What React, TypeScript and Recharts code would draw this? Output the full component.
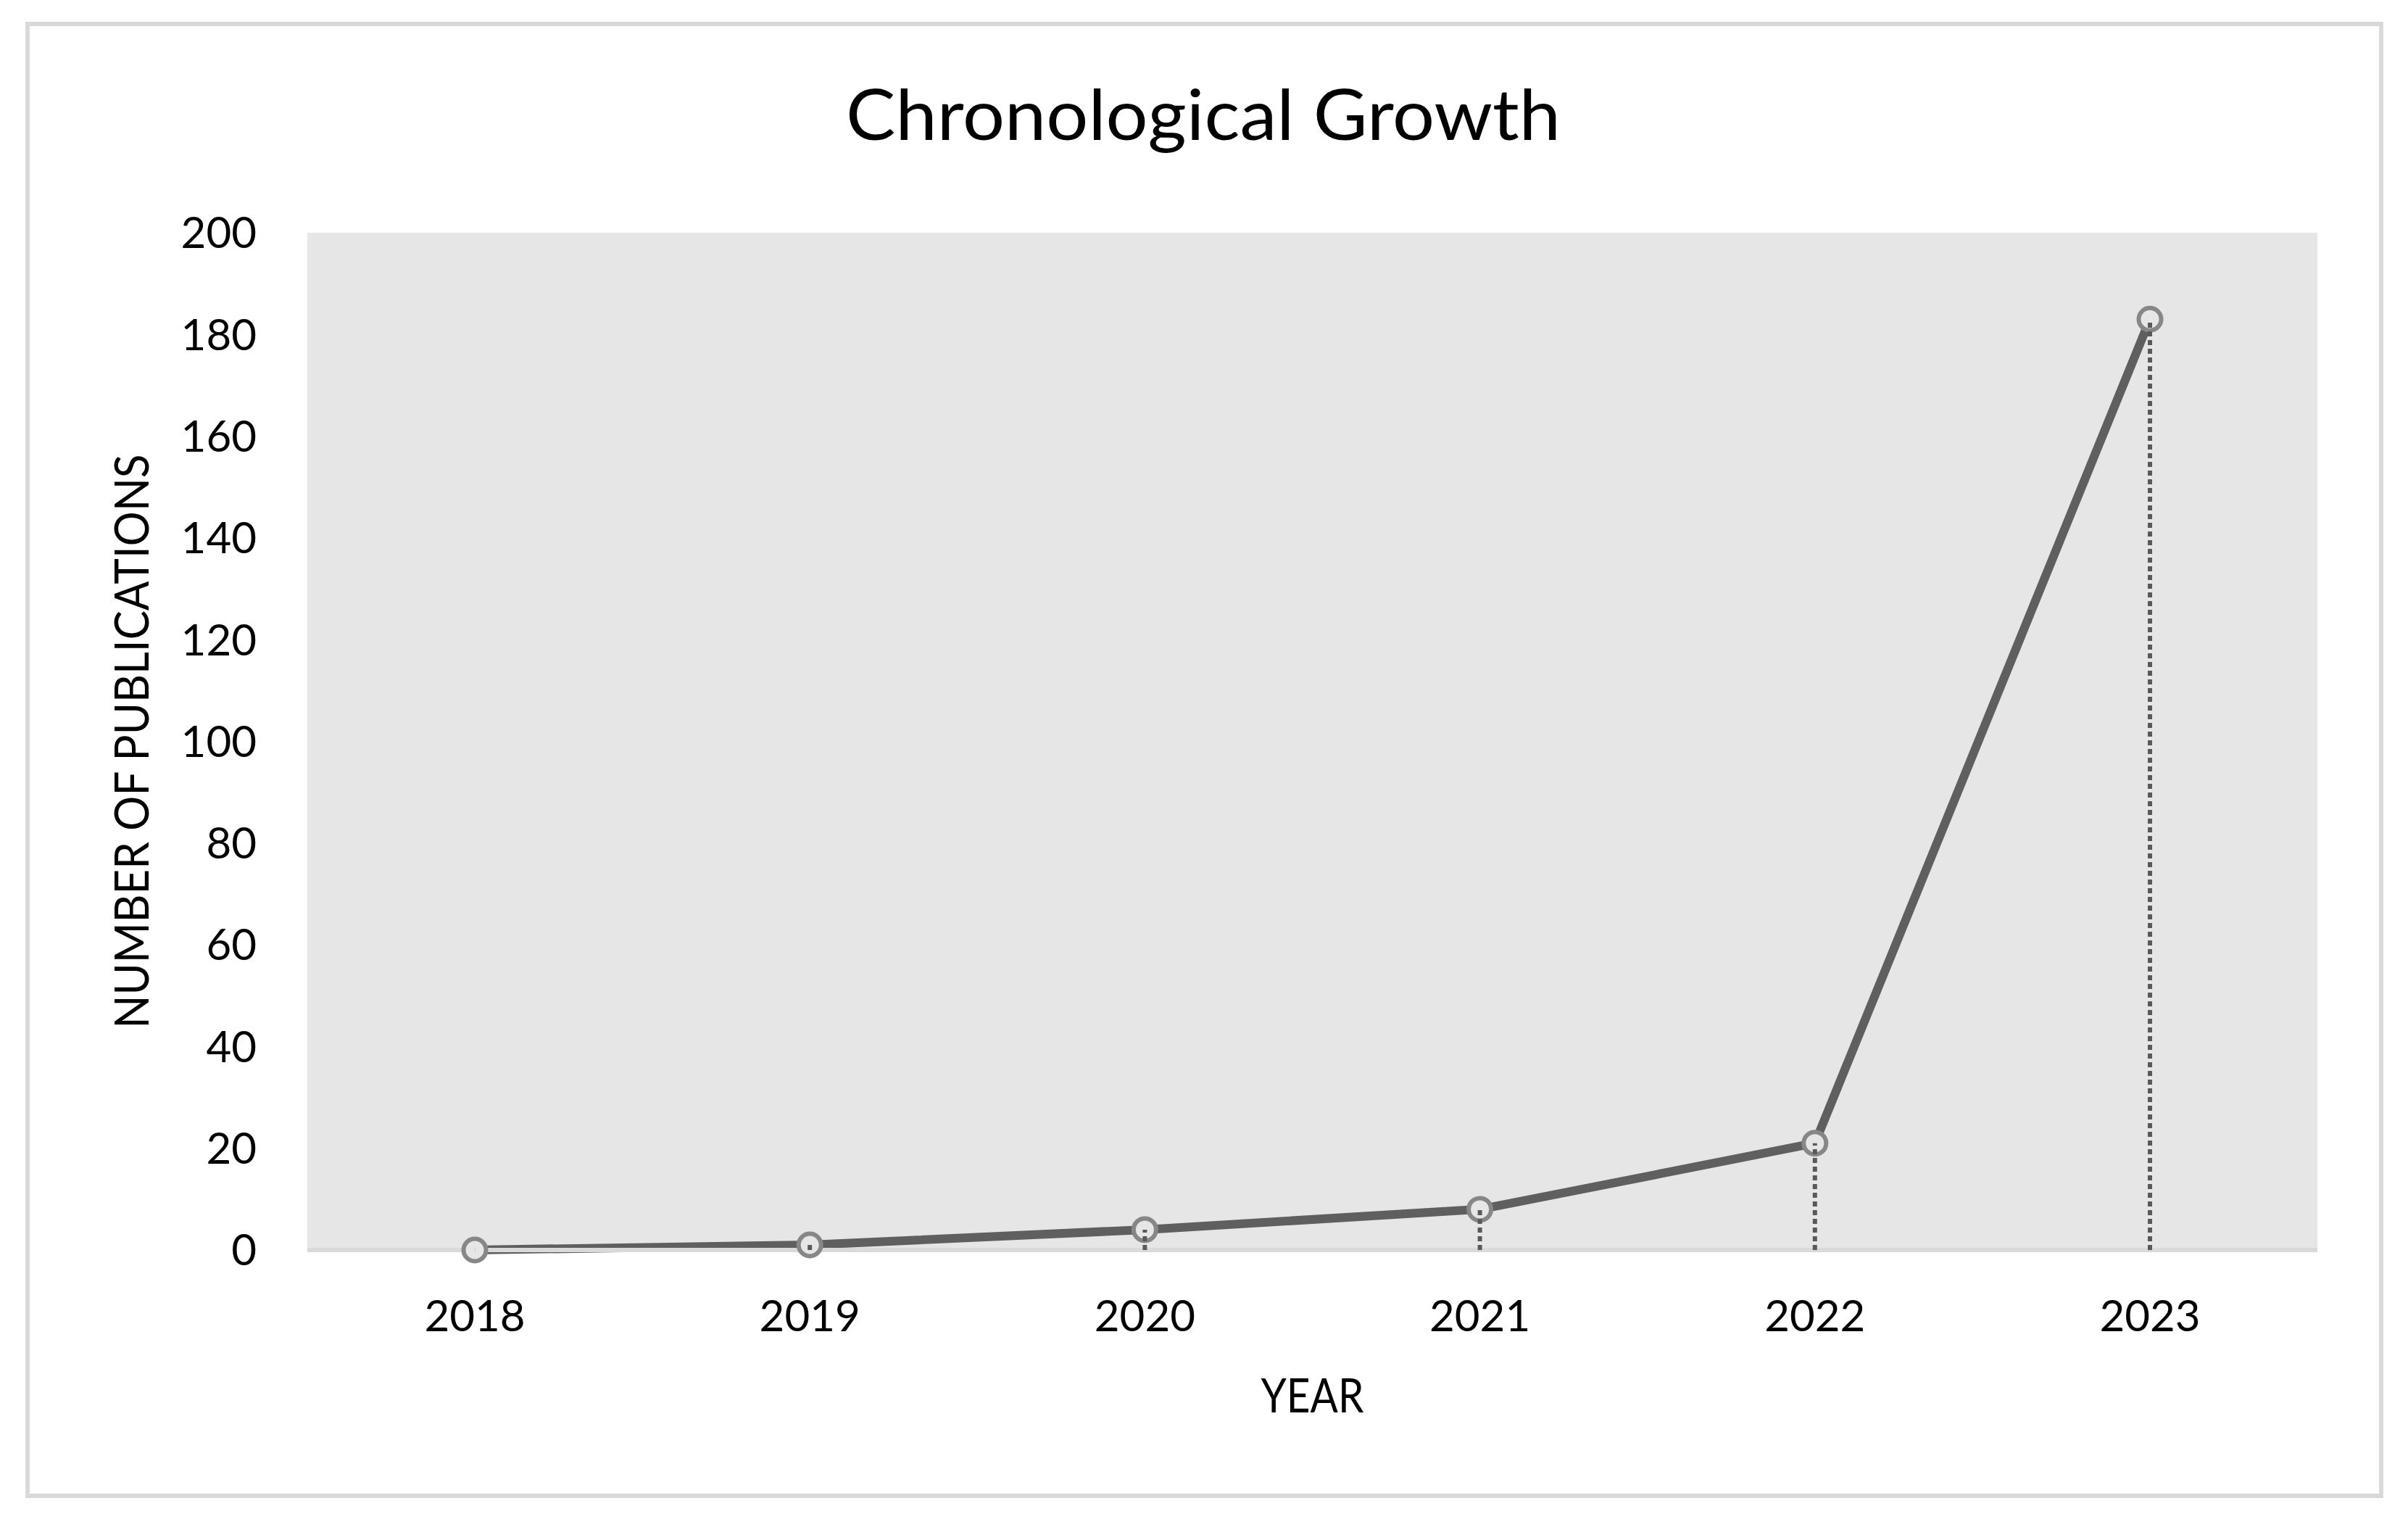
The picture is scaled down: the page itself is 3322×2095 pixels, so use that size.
import React from 'react';
import { ComposedChart, Line, XAxis, YAxis, CartesianGrid, ReferenceLine } from 'recharts';

const years = ['2018', '2019', '2020', '2021', '2022', '2023'];
const publications = [0, 1, 4, 8, 21, 183];
const yTicks = [0, 20, 40, 60, 80, 100, 120, 140, 160, 180, 200];
const chartTitle = 'Chronological Growth';
const xTitle = 'YEAR';
const yTitle = 'NUMBER OF PUBLICATIONS';

const data = years.map((year, i) => ({ year, value: publications[i] }));

const FONT = 'Lato, "Open Sans", sans-serif';

const YLabel = (props: any) => {
  const vb = props.viewBox || {};
  const bx = vb.x + 205;
  const cy = vb.y + vb.height / 2;
  return (
    <text
      transform={`translate(${bx}, ${cy}) rotate(-90)`}
      textAnchor="middle"
      fontFamily={FONT}
      fontSize={66}
      fill="#000"
      textLength={792}
      lengthAdjust="spacingAndGlyphs"
    >
      {yTitle}
    </text>
  );
};

const XLabel = (props: any) => {
  const vb = props.viewBox || {};
  return (
    <text
      x={vb.x + vb.width / 2}
      y={vb.y + 224}
      textAnchor="middle"
      fontFamily={FONT}
      fontSize={66}
      fill="#000"
      textLength={142}
      lengthAdjust="spacingAndGlyphs"
    >
      {xTitle}
    </text>
  );
};

export default function App() {
  return (
    <div style={{ position: 'absolute', left: 0, top: 0, width: 3322, height: 2095, background: '#fff' }}>
      <div
        style={{
          position: 'absolute',
          left: 35,
          top: 30,
          width: 3253,
          height: 2036,
          border: '6px solid #d9d9d9',
          boxSizing: 'border-box',
        }}
      />
      <svg width={3322} height={300} style={{ position: 'absolute', left: 0, top: 0 }}>
        <text
          x={1660}
          y={193}
          textAnchor="middle"
          fontFamily={FONT}
          fontSize={97}
          fill="#000"
          textLength={986}
          lengthAdjust="spacingAndGlyphs"
        >
          {chartTitle}
        </text>
      </svg>
      <div style={{ position: 'absolute', left: 0, top: 0 }}>
        <ComposedChart width={3322} height={2095} data={data} margin={{ top: 321, right: 125, bottom: 0, left: 0 }}>
          <CartesianGrid fill="#e6e6e6" horizontal={false} vertical={false} stroke="none" />
          <XAxis
            dataKey="year"
            height={371}
            padding={{ left: 231, right: 231 }}
            axisLine={{ stroke: '#d9d9d9', strokeWidth: 6 }}
            tickLine={false}
            tickSize={0}
            tickMargin={69}
            tick={{ fontFamily: FONT, fontSize: 60, fill: '#000' }}
            label={<XLabel />}
          />
          <YAxis
            width={424}
            domain={[0, 200]}
            ticks={yTicks}
            axisLine={false}
            tickLine={false}
            tickSize={0}
            tickMargin={70}
            tick={{ fontFamily: FONT, fontSize: 60, fill: '#000' }}
            label={<YLabel />}
          />
          <Line
            type="linear"
            dataKey="value"
            stroke="#5f5f5f"
            strokeWidth={12}
            strokeLinejoin="round"
            dot={{ r: 15.5, stroke: '#878787', strokeWidth: 6, fill: '#e6e6e6' }}
            activeDot={false}
            isAnimationActive={false}
          />
          {data.map((d) => (
            <ReferenceLine
              key={d.year}
              zIndex={2000}
              segment={[
                { x: d.year, y: 0 },
                { x: d.year, y: d.value },
              ]}
              stroke="#595959"
              strokeWidth={6}
              strokeDasharray="7 5"
            />
          ))}
        </ComposedChart>
      </div>
    </div>
  );
}
